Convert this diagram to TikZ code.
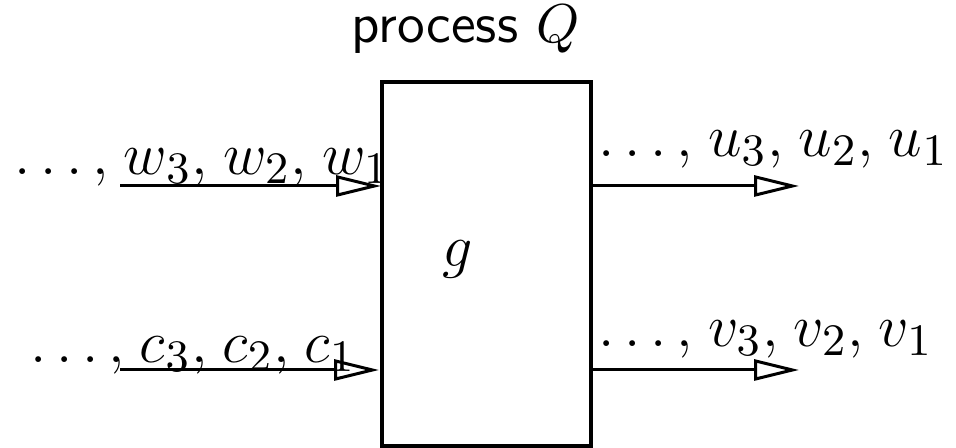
\documentclass[tikz,border=0pt]{standalone}
\usetikzlibrary{arrows.meta}
\newcommand{\sepc}{,\mskip1.5mu}
\begin{document}
\begin{tikzpicture}[x=0.2pt,y=-0.2pt,
  every node/.style={inner sep=0pt,outer sep=0pt,font=\fontsize{12.6}{15}\selectfont},
  titlefont/.style={font=\fontsize{11.3}{14}\selectfont},
  flow/.style={line width=0.6pt,-{Triangle[open,length=9pt,width=4.2pt,line width=0.6pt]}},
  boxline/.style={line width=0.65pt}]
\useasboundingbox (0,0) rectangle (956,448);
\draw[boxline] (382,82) rectangle (591,446);
\node[anchor=base,titlefont] (title) at (466,43) {\textsf{process} $Q$};
\node[anchor=base] (g) at (458,267) {$g$};
\coordinate (inA) at (120,186);
\coordinate (boxA) at (381,186);
\coordinate (inB) at (120,370);
\coordinate (boxB) at (379,370);
\coordinate (outA0) at (591,186);
\coordinate (outA) at (799,186);
\coordinate (outB0) at (591,370);
\coordinate (outB) at (799,370);
\draw[flow] (inA) -- (boxA);
\draw[flow] (inB) -- (boxB);
\draw[flow] (outA0) -- (outA);
\draw[flow] (outB0) -- (outB);
\node[anchor=base west] (w) at (14,175) {$\ldots\sepc w_3\sepc w_2\sepc w_1$};
\node[anchor=base west] (c) at (30,363) {$\ldots\sepc c_3\sepc c_2\sepc c_1$};
\node[anchor=base west] (u) at (598,157) {$\ldots\sepc u_3\sepc u_2\sepc u_1$};
\node[anchor=base west] (v) at (598,347) {$\ldots\sepc v_3\sepc v_2\sepc v_1$};
\end{tikzpicture}
\end{document}
